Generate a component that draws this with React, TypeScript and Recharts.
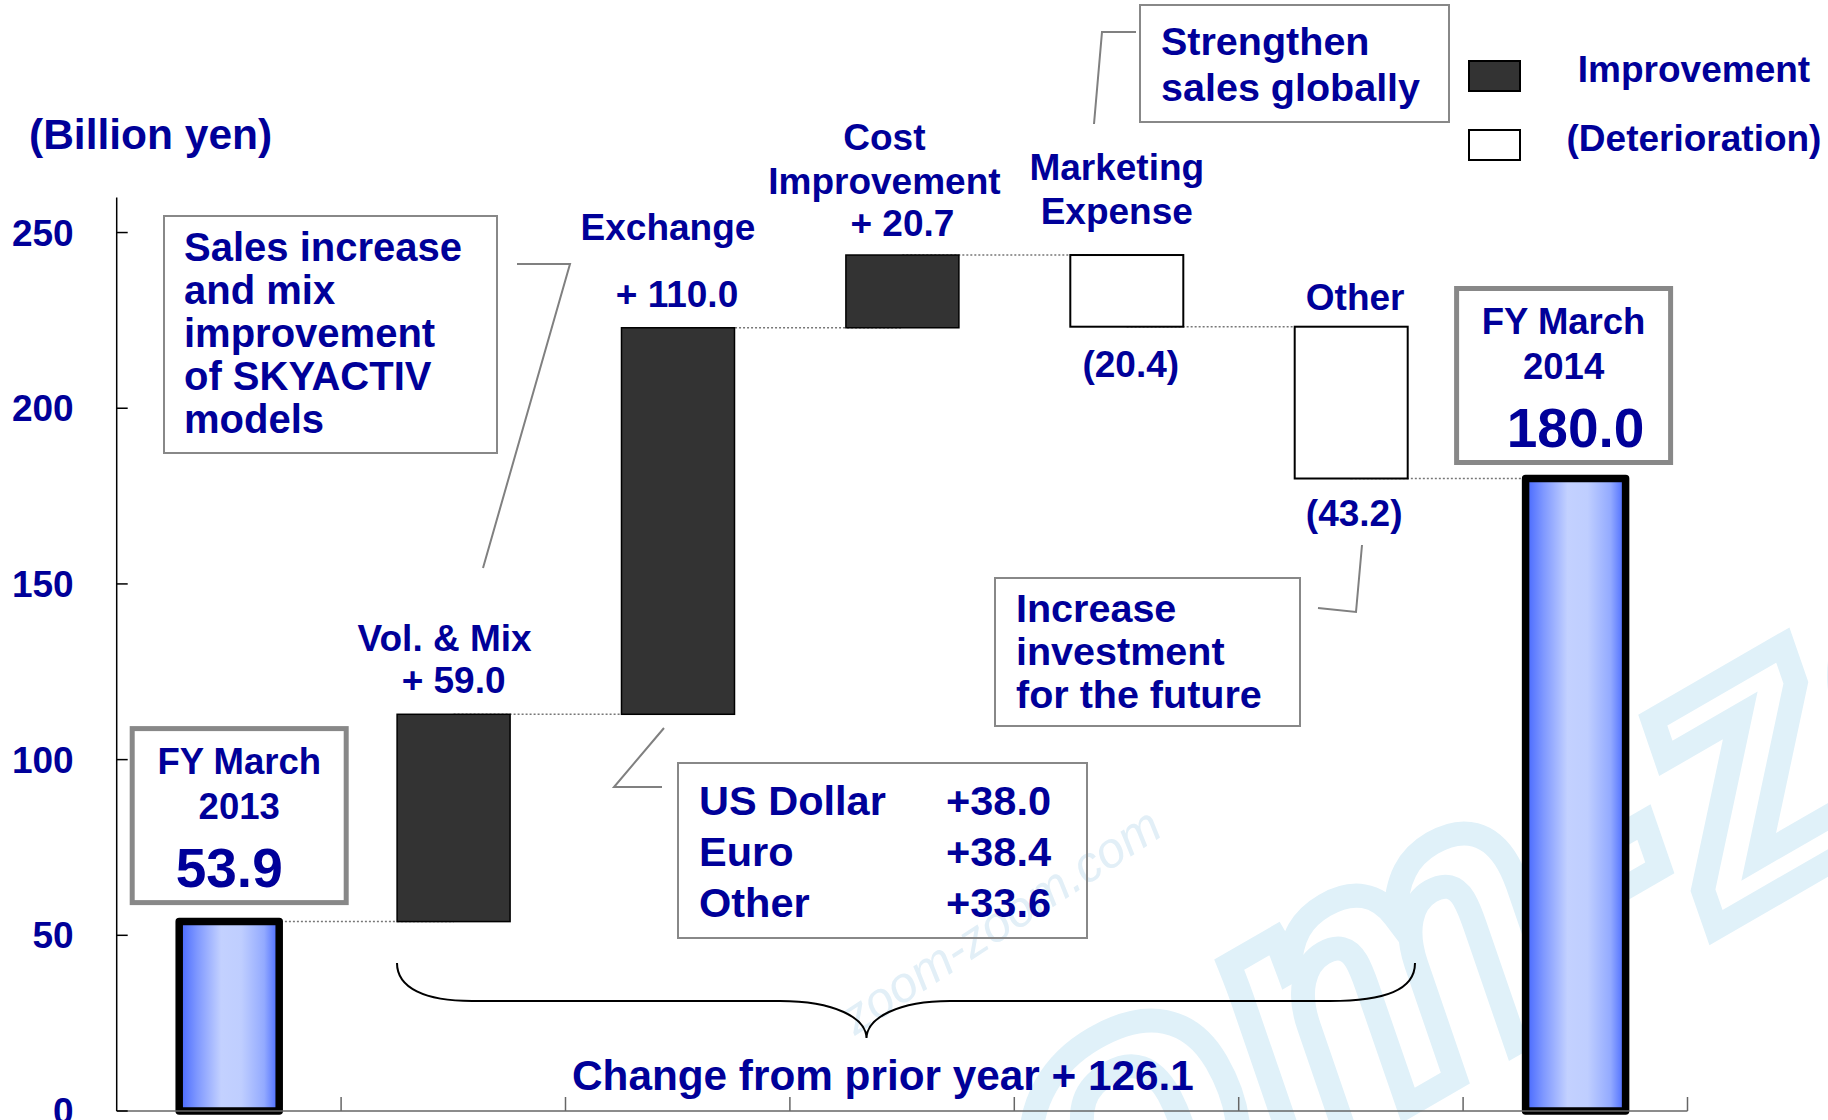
import React from 'react';
import { ComposedChart, Bar, Line, XAxis, YAxis, Legend } from 'recharts';

const W = 1828;
const H = 1120;
const NAVY = '#000099';
const FONT = '"Liberation Sans", Arial, Helvetica, sans-serif';

// operating profit bridge, billion yen
const startYear = '2013';
const endYear = '2014';
const startProfit = 53.9;
const endProfit = 180.0;
const stepNames = [['Vol. & Mix'], ['Exchange'], ['Cost', 'Improvement'], ['Marketing', 'Expense'], ['Other']];
const stepValues = [59.0, 110.0, 20.7, -20.4, -43.2];
const yTicks = [0, 50, 100, 150, 200, 250];

// exchange breakdown
const exchangeNames = ['US Dollar', 'Euro', 'Other'];
const exchangeValues = [38.0, 38.4, 33.6];

const salesNote = ['Sales increase', 'and mix', 'improvement', 'of SKYACTIV', 'models'];
const marketingNote = ['Strengthen', 'sales globally'];
const otherNote = ['Increase', 'investment', 'for the future'];
const legendNames = ['Improvement', '(Deterioration)'];

type Row = {
  key: string;
  order: number;
  range: [number, number];
  level: number;
  kind: 'total' | 'up' | 'down';
  change: number;
  lines: string[];
};

const rows: Row[] = [];
rows.push({
  key: 'FY' + startYear,
  order: 0,
  range: [0, startProfit],
  level: startProfit,
  kind: 'total',
  change: startProfit,
  lines: ['FY March', startYear],
});
let running = startProfit;
stepValues.forEach((v, i) => {
  const next = Math.round((running + v) * 10) / 10;
  rows.push({
    key: stepNames[i].join(' '),
    order: i + 1,
    range: [Math.min(running, next), Math.max(running, next)],
    level: next,
    kind: v >= 0 ? 'up' : 'down',
    change: v,
    lines: stepNames[i],
  });
  running = next;
});
rows.push({
  key: 'FY' + endYear,
  order: rows.length,
  range: [0, endProfit],
  level: endProfit,
  kind: 'total',
  change: endProfit,
  lines: ['FY March', endYear],
});

// label placement tweaks (px), by row order
const nameShift: Record<number, { dx: number; lift: number }> = {
  1: { dx: -9, lift: 63 },
  2: { dx: -10, lift: 88 },
  3: { dx: -18, lift: 61 },
  4: { dx: -10, lift: 31 },
  5: { dx: 4, lift: 17 },
};
const valueShift: Record<number, { dx: number; gap: number }> = {
  1: { dx: 0, gap: 21 },
  2: { dx: -1, gap: 21 },
  3: { dx: 0, gap: 19 },
  4: { dx: 4, gap: 50 },
  5: { dx: 3, gap: 47 },
};
const totalBoxShift: Record<number, { dx: number; gap: number }> = {
  0: { dx: 10, gap: 19 },
  6: { dx: -12, gap: 16 },
};

const txt = (size: number): React.SVGProps<SVGTextElement> => ({
  fontFamily: FONT,
  fontWeight: 700,
  fontSize: size,
  fill: NAVY,
});

const fmtChange = (v: number) => (v >= 0 ? `+ ${v.toFixed(1)}` : `(${Math.abs(v).toFixed(1)})`);

const WaterfallShape = (props: any) => {
  const { x, y, width, height, payload } = props;
  if (payload == null || x == null) return null;
  const row = payload as Row;
  const top = Math.min(y, y + height);
  const bottom = Math.max(y, y + height);
  const cx = x + width / 2;

  if (row.kind === 'total') {
    const gid = `fyGrad${row.order}`;
    const bw = 100;
    const boxW = 214;
    const boxH = 174;
    const shift = totalBoxShift[row.order] ?? { dx: 0, gap: 18 };
    const bcx = cx + shift.dx;
    const boxTop = top - shift.gap - boxH;
    return (
      <g>
        <defs>
          <linearGradient id={gid} x1="0" y1="0" x2="1" y2="0">
            <stop offset="0%" stopColor="#4466ff" />
            <stop offset="18%" stopColor="#7f98ff" />
            <stop offset="42%" stopColor="#c3d1ff" />
            <stop offset="62%" stopColor="#bfceff" />
            <stop offset="85%" stopColor="#93aaff" />
            <stop offset="100%" stopColor="#4466ff" />
          </linearGradient>
        </defs>
        <rect
          x={cx - bw / 2}
          y={top}
          width={bw}
          height={bottom - top}
          fill={`url(#${gid})`}
          stroke="#000"
          strokeWidth={7.5}
          strokeLinejoin="round"
        />
        <rect
          x={bcx - boxW / 2}
          y={boxTop}
          width={boxW}
          height={boxH}
          fill="#fff"
          stroke="#888"
          strokeWidth={5}
        />
        <text x={bcx} y={boxTop + 45} textAnchor="middle" {...txt(36.5)}>
          {row.lines[0]}
        </text>
        <text x={bcx} y={boxTop + 90} textAnchor="middle" {...txt(36.5)}>
          {row.lines[1]}
        </text>
        <text x={cx} y={boxTop + 158} textAnchor="middle" {...txt(55)}>
          {row.change.toFixed(1)}
        </text>
      </g>
    );
  }

  const up = row.kind === 'up';
  const ns = nameShift[row.order] ?? { dx: 0, lift: 40 };
  const vs = valueShift[row.order] ?? { dx: 0, gap: 21 };
  const n = row.lines.length;
  return (
    <g>
      <rect
        x={x}
        y={top}
        width={width}
        height={bottom - top}
        fill={up ? '#333333' : '#ffffff'}
        stroke="#000"
        strokeWidth={up ? 1.5 : 2}
      />
      {row.lines.map((line, i) => (
        <text
          key={line}
          x={cx + ns.dx}
          y={top - ns.lift - (n - 1 - i) * 44}
          textAnchor="middle"
          {...txt(37)}
        >
          {line}
        </text>
      ))}
      <text
        x={cx + vs.dx}
        y={up ? top - vs.gap : bottom + vs.gap}
        textAnchor="middle"
        {...txt(37)}
      >
        {fmtChange(row.change)}
      </text>
    </g>
  );
};

const YTick = (props: any) => {
  const { x, y, payload } = props;
  return (
    <g>
      <line x1={x} x2={x + 11} y1={y} y2={y} stroke="#000" strokeWidth={1.5} />
      <text x={x - 43} y={y + 13} textAnchor="end" {...txt(37)}>
        {payload.value}
      </text>
    </g>
  );
};

const XTick = (props: any) => {
  const { x, y, payload, index, visibleTicksCount } = props;
  const half = payload?.offset ? payload.offset : 1570.8 / rows.length / 2;
  const last = index === (visibleTicksCount ?? rows.length) - 1;
  return (
    <g>
      {index > 0 && (
        <line x1={x - half} x2={x - half} y1={y} y2={y - 14} stroke="#666" strokeWidth={1.5} />
      )}
      {last && <line x1={x + half} x2={x + half} y1={y} y2={y - 14} stroke="#666" strokeWidth={1.5} />}
    </g>
  );
};

const LegendContent = () => (
  <svg width={368} height={140} style={{ display: 'block' }}>
    <rect x={9} y={31} width={51} height={30} fill="#333333" stroke="#000" strokeWidth={2} />
    <rect x={9} y={100} width={51} height={30} fill="#ffffff" stroke="#000" strokeWidth={2} />
    <text x={234} y={52} textAnchor="middle" {...txt(37)}>
      {legendNames[0]}
    </text>
    <text x={234} y={121} textAnchor="middle" {...txt(37)}>
      {legendNames[1]}
    </text>
  </svg>
);

const Annotations = () => {
  const totalChange = (endProfit - startProfit).toFixed(1);
  return (
    <svg
      width={W}
      height={H}
      style={{ position: 'absolute', left: 0, top: 0, pointerEvents: 'none' }}
    >
      <text x={29} y={149} {...txt(42.5)}>
        (Billion yen)
      </text>

      {/* sales note */}
      <rect x={164} y={216} width={333} height={237} fill="none" stroke="#888" strokeWidth={2} />
      {salesNote.map((s, i) => (
        <text key={s} x={184} y={261 + i * 43.1} {...txt(40)}>
          {s}
        </text>
      ))}
      <polyline points="517,264 570,264 483,568" fill="none" stroke="#808080" strokeWidth={2} />

      {/* marketing note */}
      <rect x={1140} y={5} width={309} height={117} fill="none" stroke="#888" strokeWidth={2} />
      {marketingNote.map((s, i) => (
        <text key={s} x={1161} y={55 + i * 45.5} {...txt(39.5)}>
          {s}
        </text>
      ))}
      <polyline points="1136,32 1102,32 1094,124" fill="none" stroke="#808080" strokeWidth={2} />

      {/* other note */}
      <rect x={995} y={578} width={305} height={148} fill="none" stroke="#888" strokeWidth={2} />
      {otherNote.map((s, i) => (
        <text key={s} x={1016} y={622 + i * 43} {...txt(39.5)}>
          {s}
        </text>
      ))}
      <polyline points="1362,545 1356,612 1318,608" fill="none" stroke="#808080" strokeWidth={2} />

      {/* exchange breakdown */}
      <rect x={678} y={763} width={409} height={175} fill="none" stroke="#888" strokeWidth={2} />
      {exchangeNames.map((s, i) => (
        <g key={s}>
          <text x={699} y={815 + i * 50.8} {...txt(41.5)}>
            {s}
          </text>
          <text x={1051} y={815 + i * 50.8} textAnchor="end" {...txt(41.5)}>
            {`+${exchangeValues[i].toFixed(1)}`}
          </text>
        </g>
      ))}
      <polyline points="664,728 614,787 662,787" fill="none" stroke="#808080" strokeWidth={2} />

      {/* brace */}
      <path
        d="M 397 963 C 397 988 425 1001 472 1001 L 780 1001 C 835 1001 866 1018 866.5 1038 C 867 1018 898 1001 950 1001 L 1330 1001 C 1385 1001 1415 990 1415 963"
        fill="none"
        stroke="#000"
        strokeWidth={2}
      />
      <text x={572} y={1090} {...txt(42.3)}>
        {`Change from prior year + ${totalChange}`}
      </text>
    </svg>
  );
};

const Watermark = () => (
  <svg width={W} height={H} style={{ position: 'absolute', left: 0, top: 0 }}>
    <text
      x={1660}
      y={960}
      textAnchor="middle"
      transform="rotate(-30 1660 960)"
      fontFamily={FONT}
      fontStyle="italic"
      fontWeight={700}
      fontSize={400}
      fill="none"
      stroke="#e0f1f9"
      strokeWidth={24}
    >
      zoom-zoom
    </text>
    <text
      x={1010}
      y={935}
      textAnchor="middle"
      transform="rotate(-33 1010 935)"
      fontFamily={FONT}
      fontStyle="italic"
      fontSize={50}
      fill="#e2eff7"
    >
      zoom-zoom.com
    </text>
  </svg>
);

export default function App() {
  return (
    <div style={{ position: 'absolute', left: 0, top: 0, width: W, height: H, background: '#fff' }}>
      <Watermark />
      <div style={{ position: 'absolute', left: 0, top: 0 }}>
        <ComposedChart
          width={W}
          height={H}
          data={rows}
          barSize={113}
          margin={{ top: 197.4, right: 140.5, left: 0, bottom: 0 }}
        >
          <XAxis
            dataKey="key"
            height={9}
            interval={0}
            tickSize={0}
            tickMargin={0}
            tickLine={false}
            tick={<XTick />}
            axisLine={{ stroke: '#666', strokeWidth: 1.5 }}
          />
          <YAxis
            width={116.7}
            domain={[0, 260]}
            ticks={yTicks}
            interval={0}
            tickSize={0}
            tickMargin={0}
            tickLine={false}
            tick={<YTick />}
            axisLine={{ stroke: '#000', strokeWidth: 1.5 }}
          />
          <Legend
            layout="vertical"
            align="center"
            verticalAlign="middle"
            content={() => <LegendContent />}
            wrapperStyle={{ position: 'absolute', left: 1460, top: 30, width: 368, height: 140 }}
          />
          <Line
            dataKey="level"
            type="stepAfter"
            stroke="#777"
            strokeWidth={1.5}
            strokeDasharray="2 2"
            dot={false}
            activeDot={false}
            isAnimationActive={false}
            zIndex={250}
          />
          <Bar dataKey="range" shape={<WaterfallShape />} isAnimationActive={false} />
        </ComposedChart>
      </div>
      <Annotations />
    </div>
  );
}
